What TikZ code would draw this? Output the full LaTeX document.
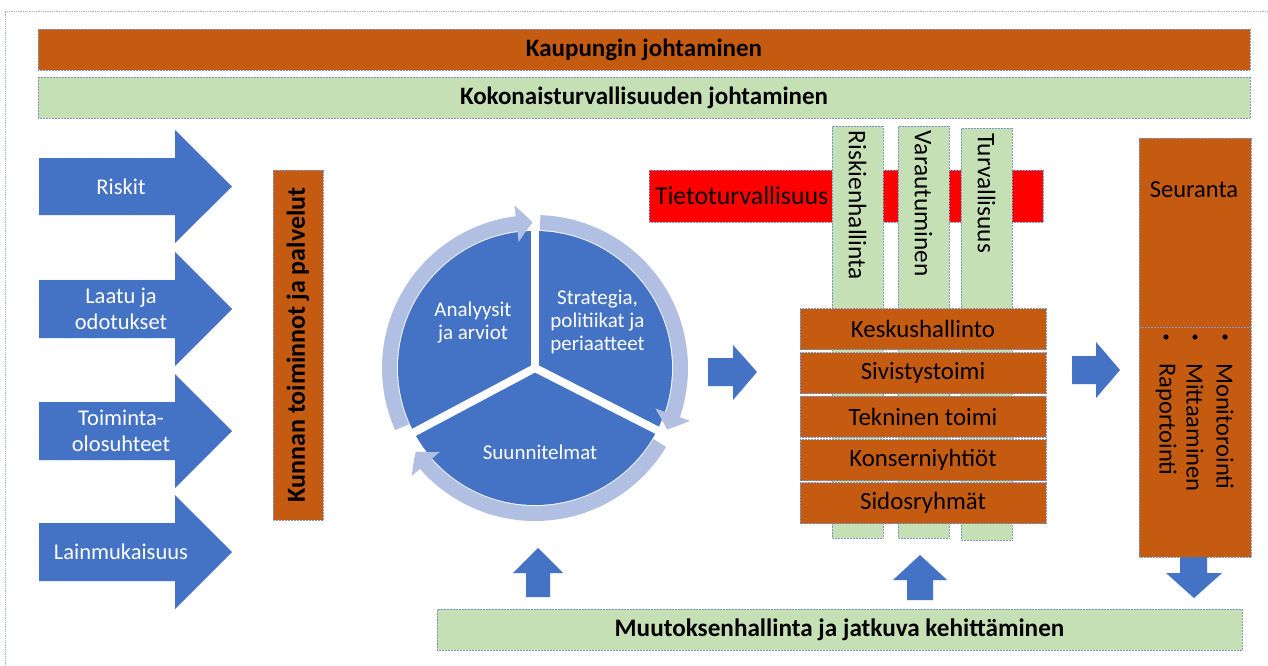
\documentclass[tikz,border=0pt]{standalone}
\usepackage{fontspec}
\setmainfont{Carlito}
\usetikzlibrary{arrows.meta,bending}
\definecolor{orng}{HTML}{C55A11}
\definecolor{grn}{HTML}{C5E0B4}
\definecolor{blu}{HTML}{4472C4}
\definecolor{ringc}{HTML}{B0BFE2}
\definecolor{bord}{HTML}{7F97C6}
\definecolor{frame}{HTML}{9DB1DA}
\begin{document}
\begin{tikzpicture}[x=1pt,y=-1pt,
  box/.style={draw=bord, densely dotted, line width=0.5pt, inner sep=0pt},
  big/.style={font=\fontsize{25}{29}\selectfont\bfseries},
  reg/.style={font=\fontsize{25.3}{29}\selectfont},
  wtxt/.style={text=white, align=center, font=\fontsize{22.5}{26}\selectfont},
  ptxt/.style={text=white, align=center, font=\fontsize{21}{23}\selectfont},
  blockarrow/.style={fill=blu, draw=bord, densely dotted, line width=0.4pt},
  cyc/.style={ringc, line width=15pt, -{Triangle[width=36pt,length=16pt,bend]}}
]
\useasboundingbox (0,0) rectangle (1268,666);
% outer frame
\draw[frame, densely dotted, line width=0.8pt] (5,666) -- (5,11) -- (1268,11);

% top bars
\node[box, fill=orng, minimum width=1212pt, minimum height=41pt, big] (kaup) at (644,49.5) {Kaupungin johtaminen};
\node[box, fill=grn, minimum width=1212pt, minimum height=41pt, big] (koko) at (644,97.5) {Kokonaisturvallisuuden johtaminen};

% left arrows
\path[blockarrow] (39,158) -- (175,158) -- (175,130) -- (232,186.5) -- (175,243) -- (175,215) -- (39,215) -- cycle;
\node[wtxt] (riskit) at (121,186.5) {Riskit};
\path[blockarrow] (39,280) -- (175,280) -- (175,252) -- (232,309) -- (175,366) -- (175,338) -- (39,338) -- cycle;
\node[wtxt] (laatu) at (121,309) {Laatu ja\\odotukset};
\path[blockarrow] (39,402) -- (175,402) -- (175,374) -- (232,431) -- (175,488) -- (175,460) -- (39,460) -- cycle;
\node[wtxt] (toim) at (121,431) {Toiminta-\\olosuhteet};
\path[blockarrow] (39,523) -- (175,523) -- (175,495) -- (232,552) -- (175,609) -- (175,581) -- (39,581) -- cycle;
\node[wtxt] (lain) at (121,552) {Lainmukaisuus};

% Kunnan toiminnot
\node[box, fill=orng, rotate=90, minimum width=350pt, minimum height=50pt, font=\fontsize{26}{30}\selectfont\bfseries] (kunnan) at (298,345) {Kunnan toiminnot ja palvelut};

% cycle
\coordinate (c) at (535,368);
\fill[blu] (c) circle[radius=137];
\foreach \a in {-90,-208,27} \draw[white, line width=8pt] (c) -- ++(\a:140);
\draw[cyc] ([shift={(-204:145.5)}]c) arc[start angle=-204, end angle=-91, radius=145.5];
\draw[cyc] ([shift={(-88:145.5)}]c) arc[start angle=-88, end angle=25, radius=145.5];
\draw[cyc] ([shift={(31:145.5)}]c) arc[start angle=31, end angle=145, radius=145.5];
\node[ptxt] (anal) at (473,322.5) {Analyysit\\ja arviot};
\node[ptxt] (strat) at (597.5,322) {Strategia,\\politiikat ja\\periaatteet};
\node[ptxt] (suun) at (540,452) {Suunnitelmat};

% middle arrow
\path[blockarrow] (708,358) -- (733,358) -- (733,345) -- (757,372) -- (733,400) -- (733,386) -- (708,386) -- cycle;

% Tietoturvallisuus
\node[box, fill=red, minimum width=394pt, minimum height=52pt, text width=382pt, inner xsep=6pt, align=left, font=\fontsize{25.8}{29}\selectfont] (tieto) at (846,196) {Tietoturvallisuus};

% green columns
\node[box, fill=grn, rotate=-90, minimum width=412pt, minimum height=51pt, text width=402pt, inner xsep=5pt, align=left, reg] (ris) at (857.5,332) {Riskienhallinta};
\node[box, fill=grn, rotate=-90, minimum width=412pt, minimum height=51pt, text width=402pt, inner xsep=5pt, align=left, reg] (var) at (923.5,332) {Varautuminen};
\node[box, fill=grn, rotate=-90, minimum width=412pt, minimum height=51pt, text width=402pt, inner xsep=5pt, align=left, reg] (tur) at (986.5,334) {Turvallisuus};

% orange stack
\foreach \n/\y/\t in {kesk/329/Keskushallinto, siv/373/Sivistystoimi, tek/416.5/Tekninen toimi, kons/460/Konserniyhtiöt, sid/503/Sidosryhmät}
  \node[box, fill=orng, minimum width=246pt, minimum height=41pt, font=\fontsize{24.8}{29}\selectfont] (\n) at (923,\y) {\t};

% right arrow
\path[blockarrow] (1072,356) -- (1096,356) -- (1096,342) -- (1120,370) -- (1096,398) -- (1096,384) -- (1072,384) -- cycle;

% Seuranta
\node[box, fill=orng, minimum width=112pt, minimum height=419pt] (seur) at (1195,347.5) {};
\draw[bord, densely dotted, line width=0.5pt] (seur.west |- 0,327) -- (seur.east |- 0,327);
\node[font=\fontsize{24.5}{28}\selectfont] (seurt) at (1194,190) {Seuranta};
\foreach \x in {1166,1195,1225} \fill (\x,337) circle[radius=2.6];
\node[rotate=-90, anchor=west, inner sep=0pt, font=\fontsize{24.5}{28}\selectfont] (moni) at (1225,363) {Monitorointi};
\node[rotate=-90, anchor=west, inner sep=0pt, font=\fontsize{24.5}{28}\selectfont] (mitt) at (1195,363) {Mittaaminen};
\node[rotate=-90, anchor=west, inner sep=0pt, font=\fontsize{24.5}{28}\selectfont] (rapo) at (1166,363) {Raportointi};

% down arrow
\path[blockarrow] (1180,557) -- (1207,557) -- (1207,573) -- (1222,573) -- (1194,598) -- (1166,573) -- (1180,573) -- cycle;

% up arrows
\path[blockarrow] (526,597) -- (526,573) -- (513,573) -- (538,548) -- (563,573) -- (550,573) -- (550,597) -- cycle;
\path[blockarrow] (907,600) -- (907,580) -- (893,580) -- (920,555) -- (947,580) -- (933,580) -- (933,600) -- cycle;

% bottom bar
\node[box, fill=grn, minimum width=805pt, minimum height=41pt, font=\fontsize{25.2}{29}\selectfont\bfseries] (muut) at (839.5,629.5) {Muutoksenhallinta ja jatkuva kehittäminen};
\end{tikzpicture}
\end{document}
